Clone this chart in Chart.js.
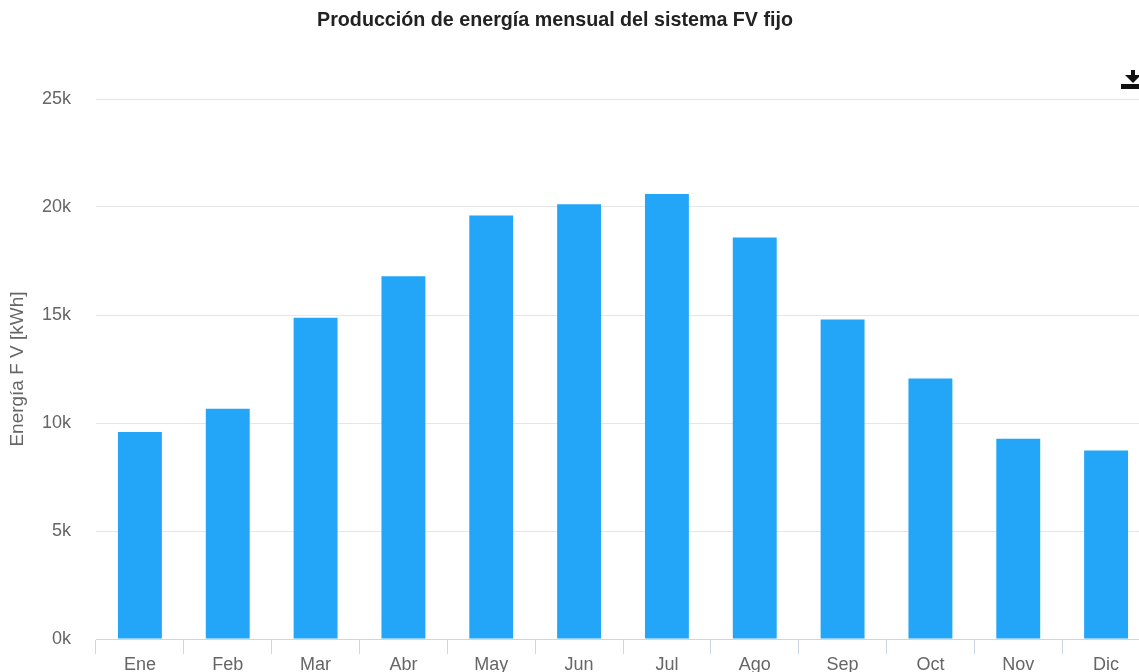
<!DOCTYPE html>
<html>
<head>
<meta charset="utf-8">
<script src="https://cdn.jsdelivr.net/npm/chart.js@4/dist/chart.umd.min.js"></script>
<style>
  html, body { margin: 0; padding: 0; background: #fff; overflow: hidden; }
  #wrap { width: 1170px; height: 676px; }
</style>
</head>
<body>
<div id="wrap"><canvas id="c" width="1170" height="676"></canvas></div>
<script>
const chartTitle = "Producción de energía mensual del sistema FV fijo";
const yAxisTitle = "Energía F V [kWh]";
const months = ["Ene", "Feb", "Mar", "Abr", "May", "Jun", "Jul", "Ago", "Sep", "Oct", "Nov", "Dic"];
const energyKWh = [9580, 10660, 14870, 16790, 19610, 20130, 20600, 18590, 14790, 12060, 9270, 8730];
const yTicks = [0, 5000, 10000, 15000, 20000, 25000];

const FONT = '"Liberation Sans", Arial, sans-serif';

const titlePlugin = {
  id: 'customTitle',
  afterDraw(chart) {
    const ctx = chart.ctx;
    ctx.save();
    ctx.font = 'bold 19.7px ' + FONT;
    ctx.fillStyle = '#222';
    ctx.textAlign = 'center';
    ctx.textBaseline = 'middle';
    ctx.fillText(chartTitle, 555, 21);
    // download icon
    ctx.fillStyle = '#111';
    ctx.fillRect(1131, 70, 4, 6);
    ctx.beginPath();
    ctx.moveTo(1125, 75);
    ctx.lineTo(1141, 75);
    ctx.lineTo(1133, 83);
    ctx.closePath();
    ctx.fill();
    ctx.fillRect(1121, 84, 20, 5);
    ctx.restore();
  }
};

new Chart(document.getElementById('c'), {
  type: 'bar',
  data: {
    labels: months,
    datasets: [{
      data: energyKWh,
      backgroundColor: '#23a6f8',
      borderWidth: 0,
      barPercentage: 0.5,
      categoryPercentage: 1.0
    }]
  },
  options: {
    responsive: false,
    animation: false,
    devicePixelRatio: 1,
    layout: { padding: { top: 99, right: 20, left: 0, bottom: 0 } },
    plugins: {
      legend: { display: false },
      tooltip: { enabled: false },
      title: { display: false }
    },
    scales: {
      x: {
        grid: {
          display: true,
          offset: true,
          drawOnChartArea: false,
          drawTicks: true,
          tickLength: 15,
          color: '#ccd6eb'
        },
        border: { display: true, color: '#ccd6eb', width: 1 },
        ticks: {
          color: '#666',
          font: { family: FONT, size: 18, lineHeight: 1 },
          padding: 2,
          maxRotation: 0
        }
      },
      y: {
        min: 0,
        max: 25000,
        afterFit(scale) { scale.width = 96; },
        afterBuildTicks(scale) { scale.ticks = yTicks.map(v => ({ value: v })); },
        grid: { color: '#e6e6e6', drawTicks: false },
        border: { display: false },
        ticks: {
          color: '#666',
          font: { family: FONT, size: 18 },
          padding: 25,
          callback: v => (v / 1000) + 'k'
        },
        title: {
          display: true,
          text: yAxisTitle,
          color: '#666',
          font: { family: FONT, size: 19 },
          padding: { top: 6, bottom: 0 }
        }
      }
    }
  },
  plugins: [titlePlugin]
});
</script>
</body>
</html>
